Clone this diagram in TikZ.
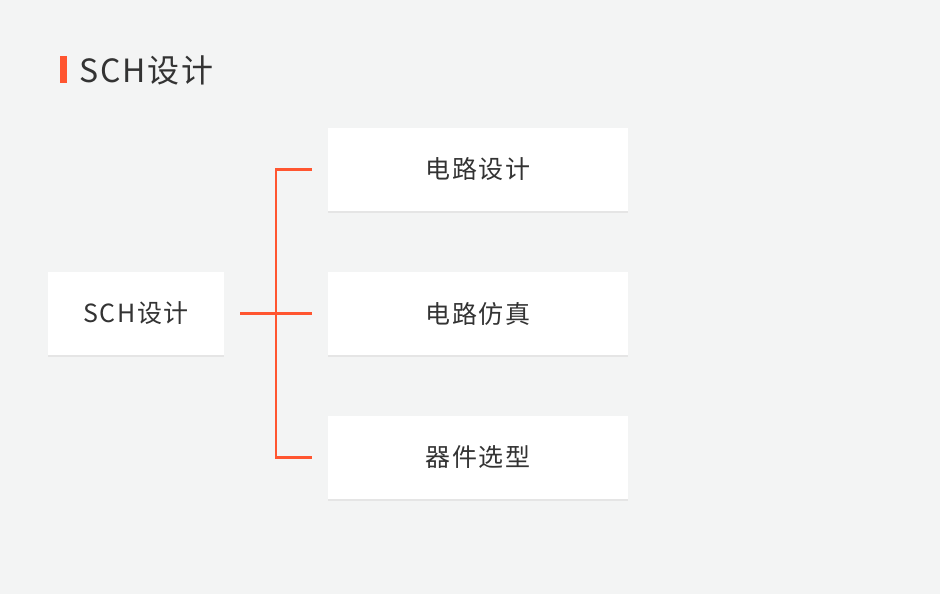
\documentclass[tikz,border=0pt]{standalone}
\usepackage{fontspec}
\setmainfont{Noto Sans CJK SC}[LetterSpace=6]
\usetikzlibrary{shadows}
\definecolor{bg}{HTML}{F3F4F4}
\definecolor{acc}{HTML}{FF5530}
\definecolor{txt}{HTML}{333333}
\begin{document}
\begin{tikzpicture}[x=1pt,y=-1pt,
  box/.style={fill=white,inner sep=0pt,text=txt,font=\fontsize{25}{30}\selectfont,
    drop shadow={shadow xshift=0pt,shadow yshift=-1.5pt,opacity=0.12}},
  link/.style={draw=acc,line width=2.6pt}]
\useasboundingbox[fill=bg] (0,0) rectangle (940,594);
\fill[acc] (60,56) rectangle (67,83);
\node[anchor=west,text=txt,font=\fontsize{32}{36}\selectfont,inner sep=0pt] (title) at (79,70) {SCH设计};
\node[box,minimum width=176pt,minimum height=83pt] (root) at (136,313.5) {SCH设计};
\node[box,minimum width=300pt,minimum height=83pt] (a) at (478,169.5) {电路设计};
\node[box,minimum width=300pt,minimum height=83pt] (b) at (478,313.5) {电路仿真};
\node[box,minimum width=300pt,minimum height=83pt] (c) at (478,457.5) {器件选型};
\coordinate (j) at (276,314);
\draw[link] ([xshift=16pt]root.east) -- ([xshift=-16pt]b.west);
\draw[link] ([xshift=-16pt]a.west) -| (j) |- ([xshift=-16pt]c.west);
\end{tikzpicture}
\end{document}
